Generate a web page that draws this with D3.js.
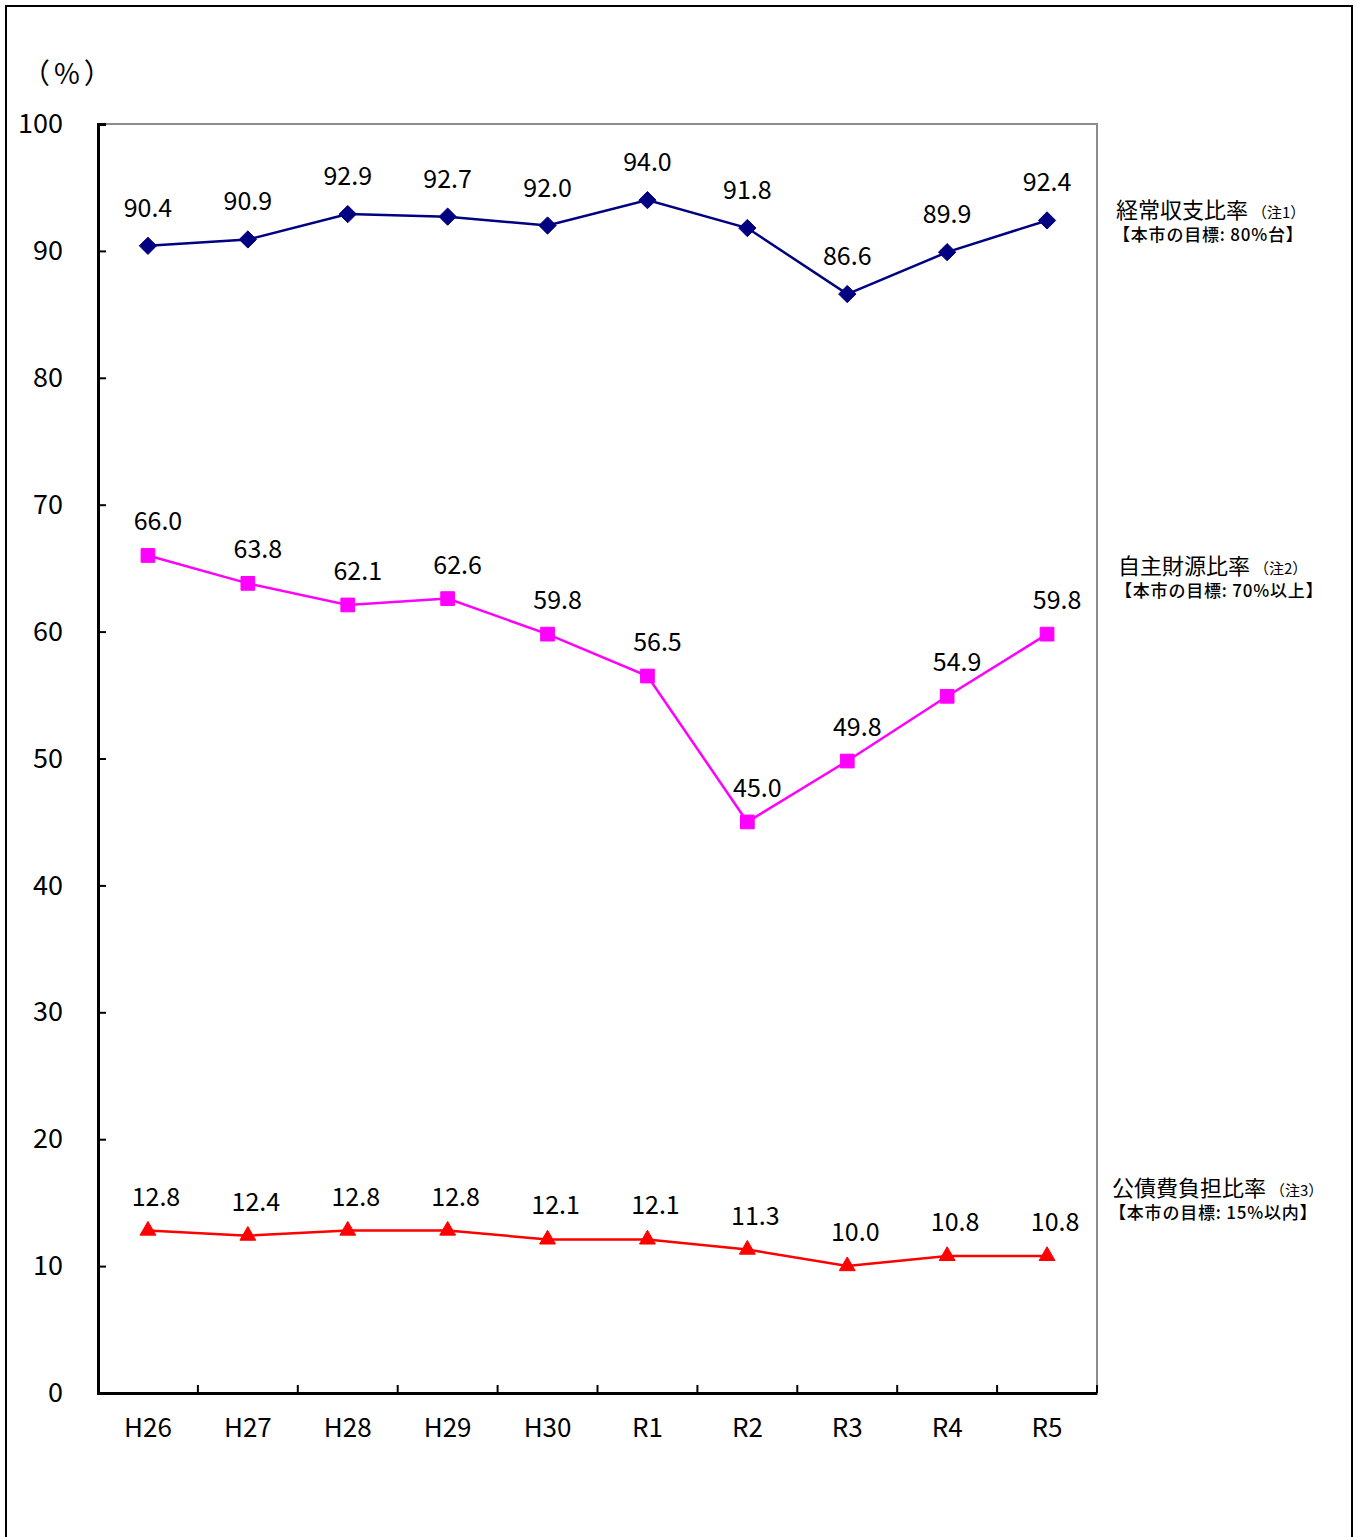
<!DOCTYPE html>
<html><head><meta charset="utf-8">
<script src="https://cdn.jsdelivr.net/npm/d3@7"></script>
<style>body{margin:0;background:#fff}svg{display:block}text{font-family:"Noto Sans CJK JP","Noto Sans",sans-serif}</style>
</head><body>
<script>
const categories = ["H26","H27","H28","H29","H30","R1","R2","R3","R4","R5"];
const keijo = [90.4,90.9,92.9,92.7,92.0,94.0,91.8,86.6,89.9,92.4];
const jishu = [66.0,63.8,62.1,62.6,59.8,56.5,45.0,49.8,54.9,59.8];
const kosai = [12.8,12.4,12.8,12.8,12.1,12.1,11.3,10.0,10.8,10.8];
const yTicks = [0,10,20,30,40,50,60,70,80,90,100];
const seriesNames = ["経常収支比率","自主財源比率","公債費負担比率"];
const noteLabels = ["（注1）","（注2）","（注3）"];
const targetLabels = ["【本市の目標: 80%台】","【本市の目標: 70%以上】","【本市の目標: 15%以内】"];

const W=1357,H=1537;
const svg=d3.select("body").append("svg").attr("width",W).attr("height",H);
svg.append("rect").attr("x",6).attr("y",6).attr("width",1346).attr("height",1600)
  .attr("fill","none").attr("stroke","#000").attr("stroke-width",2);

const L=98,R=1097,T=124,B=1393;
const x=d3.scaleBand().domain(categories).range([L,R]);
const y=d3.scaleLinear().domain([0,100]).range([B,T]);

svg.append("path").attr("d",`M${L},${T}H${R}V${B}`).attr("fill","none").attr("stroke","#8c8c8c").attr("stroke-width",2);

const yAxis=svg.append("g").attr("transform",`translate(${L},0)`)
  .call(d3.axisLeft(y).tickValues(yTicks).tickSize(-8).tickPadding(35).tickFormat(d3.format("d")));
yAxis.select(".domain").attr("stroke","#000").attr("stroke-width",3);
yAxis.selectAll(".tick line").attr("stroke","#000").attr("stroke-width",2);
yAxis.selectAll(".tick text").attr("font-size",27).attr("fill","#000").attr("font-family","Noto Sans CJK JP");

const xAxis=svg.append("g").attr("transform",`translate(0,${B})`)
  .call(d3.axisBottom(x).tickSize(0).tickPadding(26));
xAxis.select(".domain").attr("stroke","#000").attr("stroke-width",3);
xAxis.selectAll(".tick text").attr("font-size",26).attr("fill","#000").attr("dy","0.71em");
svg.append("g").selectAll("line").data(categories.slice(1).concat(["__end"])).join("line")
  .attr("x1",d=>d==="__end"?R:x(d)).attr("x2",d=>d==="__end"?R:x(d))
  .attr("y1",B).attr("y2",B-8).attr("stroke","#000").attr("stroke-width",2);

svg.append("text").attr("x",22).attr("y",84).attr("font-size",28).attr("letter-spacing",4).text("（%）");

const series=[
  {vals:keijo,color:"#000080",sym:d3.symbolDiamond2,size:190,dx:0,dy:-29},
  {vals:jishu,color:"#ff00ff",sym:d3.symbolSquare2,size:240,dx:10,dy:-25},
  {vals:kosai,color:"#ff0000",sym:d3.symbolTriangle2,size:180,dx:8,dy:-25}
];
const cx=c=>x(c)+x.bandwidth()/2;
series.forEach(s=>{
  const pts=categories.map((c,i)=>[cx(c),y(s.vals[i])]);
  svg.append("path").attr("d",d3.line()(pts)).attr("fill","none").attr("stroke",s.color).attr("stroke-width",2.5);
  svg.append("g").selectAll("path").data(pts).join("path")
    .attr("transform",d=>`translate(${d[0]},${d[1]})`)
    .attr("d",d3.symbol(s.sym,s.size)()).attr("fill",s.color).attr("stroke",s.color).attr("stroke-width",1);
  svg.append("g").selectAll("text").data(s.vals).join("text")
    .attr("x",(d,i)=>cx(categories[i])+s.dx).attr("y",(d,i)=>y(d)+s.dy)
    .attr("text-anchor","middle").attr("font-size",25).attr("fill","#000")
    .text(d=>d.toFixed(1));
});

const legY=[218,574,1196];
const legX=[1116,1118,1112];
seriesNames.forEach((n,i)=>{
  const t=svg.append("text").attr("x",legX[i]).attr("y",legY[i]).attr("font-size",22).attr("fill","#000");
  t.append("tspan").text(n);
  t.append("tspan").attr("font-size",15).attr("dx",4).text(noteLabels[i]);
  svg.append("text").attr("x",legX[i]-3).attr("y",legY[i]+23).attr("font-size",17).attr("letter-spacing",0.8).attr("font-weight",500).attr("fill","#000").text(targetLabels[i]);
});
</script>
</body></html>
